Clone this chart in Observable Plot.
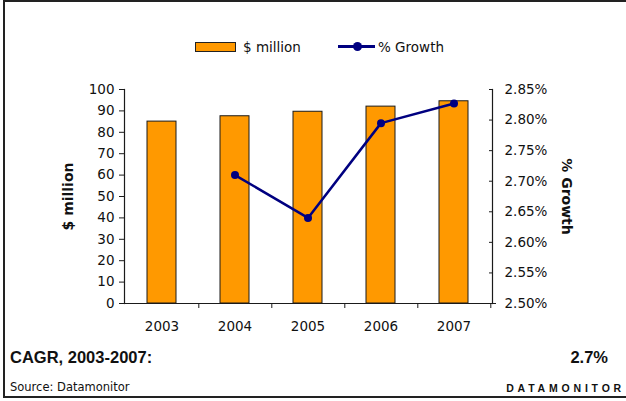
<!DOCTYPE html>
<html>
<head>
<meta charset="utf-8">
<script src="https://cdn.jsdelivr.net/npm/d3@7"></script>
<script src="https://cdn.jsdelivr.net/npm/@observablehq/plot@0.6"></script>
<style>
  body { margin: 0; overflow: hidden; background: #fff; }
  #wrap { position: relative; width: 626px; height: 401px; overflow: hidden; }
  #wrap svg { position: absolute; left: 0; top: 0; }
  .abs { position: absolute; white-space: nowrap; line-height: 1; }
</style>
</head>
<body>
<div id="wrap">
  <div class="abs" style="left:3px;top:0px;width:640px;height:398px;border:2px solid #222;box-sizing:border-box;"></div>
  <div class="abs" style="left:195px;top:42px;width:41px;height:10px;background:#FF9900;border:1px solid #222;box-sizing:border-box;"></div>
  <div class="abs" id="leg1" style="left:243px;top:39px;font:13.5px 'DejaVu Sans';color:#111;"></div>
  <div class="abs" style="left:338px;top:45px;width:37px;height:2.5px;background:#000080;"></div>
  <div class="abs" style="left:353px;top:42px;width:9px;height:9px;border-radius:50%;background:#000080;"></div>
  <div class="abs" id="leg2" style="left:378px;top:39px;font:13.5px 'DejaVu Sans';color:#111;"></div>
  <div class="abs" id="cagrLabel" style="left:10px;top:348px;font:bold 16.5px 'Liberation Sans';color:#111;"></div>
  <div class="abs" id="cagrValue" style="right:18px;top:348px;font:bold 16.5px 'Liberation Sans';color:#111;"></div>
  <div class="abs" id="source" style="left:10px;top:380px;font:11.5px 'DejaVu Sans';color:#111;"></div>
  <div class="abs" id="brand" style="right:1px;top:382px;font:bold 10.5px 'Liberation Sans';letter-spacing:3.8px;color:#111;"></div>
</div>
<script>
// ---- data ----
const years = ["2003", "2004", "2005", "2006", "2007"];
const millions = [85, 87.5, 89.6, 92.0, 94.5];
const growth = [null, 2.71, 2.64, 2.795, 2.827];
const leftTicks = [0, 10, 20, 30, 40, 50, 60, 70, 80, 90, 100];
const rightTicks = [2.50, 2.55, 2.60, 2.65, 2.70, 2.75, 2.80, 2.85];
const seriesNames = ["$ million", "% Growth"];
const axisTitles = ["$ million", "% Growth"];
const cagrLabel = "CAGR, 2003-2007:";
const cagrValue = "2.7%";
const sourceText = "Source: Datamonitor";
const brandText = "DATAMONITOR";

// ---- derived tables ----
const barData = years.map((y, i) => ({year: y, value: millions[i]}));
const lineData = years.map((y, i) => ({year: y, g: growth[i]})).filter(d => d.g != null);

// secondary axis mapping: growth domain [2.50, 2.85] onto the primary [0, 100]
const gMin = rightTicks[0], gMax = rightTicks[rightTicks.length - 1];
const toY = g => (g - gMin) / (gMax - gMin) * 100;
const fromY = v => gMin + v / 100 * (gMax - gMin);

const W = 626, H = 401, mL = 124, mR = 134, mT = 89, mB = 98;
const step = (W - mL - mR) / years.length;
const ink = "#1a1a1a";

const chart = Plot.plot({
  width: W, height: H,
  marginLeft: mL, marginRight: mR, marginTop: mT, marginBottom: mB,
  style: {fontFamily: "DejaVu Sans", fontSize: "13.5px", color: "#111", background: "transparent"},
  x: {type: "band", domain: years, paddingInner: 0.6, paddingOuter: 0.3, axis: null},
  y: {domain: [0, 100], axis: null},
  marks: [
    Plot.barY(barData, {x: "year", y: "value", fill: "#FF9900", stroke: ink, strokeWidth: 1}),
    Plot.ruleY([0], {stroke: ink, strokeWidth: 1.2, insetLeft: -3, insetRight: -4}),
    Plot.frame({anchor: "left", stroke: ink, strokeWidth: 1.2}),
    Plot.frame({anchor: "right", stroke: ink, strokeWidth: 1.2}),
    Plot.axisY({anchor: "left", ticks: leftTicks, tickSize: 5, tickPadding: 5, label: null, stroke: ink}),
    Plot.axisY({anchor: "right", ticks: rightTicks.map(toY), tickSize: 0, tickPadding: 12,
      tickFormat: v => fromY(v).toFixed(2) + "%", label: null}),
    Plot.axisY({anchor: "right", ticks: rightTicks.map(toY), tickSize: 4, dx: -4,
      tickFormat: () => "", label: null, stroke: ink}),
    Plot.axisX({ticks: years, tickSize: 0, tickPadding: 18, label: null}),
    Plot.axisX({ticks: years, tickSize: 5, dx: step / 2, tickFormat: () => "", label: null, stroke: ink}),
    Plot.lineY(lineData, {x: "year", y: d => toY(d.g), stroke: "#000080", strokeWidth: 2.5}),
    Plot.dot(lineData, {x: "year", y: d => toY(d.g), r: 4, fill: "#000080"}),
    Plot.text([axisTitles[0]], {text: d => d, frameAnchor: "left", rotate: -90, dx: -56,
      textAnchor: "middle", lineAnchor: "middle", fontWeight: "bold", fontSize: 14, fill: "#111"}),
    Plot.text([axisTitles[1]], {text: d => d, frameAnchor: "right", rotate: 90, dx: 74,
      textAnchor: "middle", lineAnchor: "middle", fontWeight: "bold", fontSize: 14, fill: "#111"})
  ]
});
document.getElementById("wrap").prepend(chart);

document.getElementById("leg1").textContent = seriesNames[0];
document.getElementById("leg2").textContent = seriesNames[1];
document.getElementById("cagrLabel").textContent = cagrLabel;
document.getElementById("cagrValue").textContent = cagrValue;
document.getElementById("source").textContent = sourceText;
document.getElementById("brand").textContent = brandText;
</script>
</body>
</html>
